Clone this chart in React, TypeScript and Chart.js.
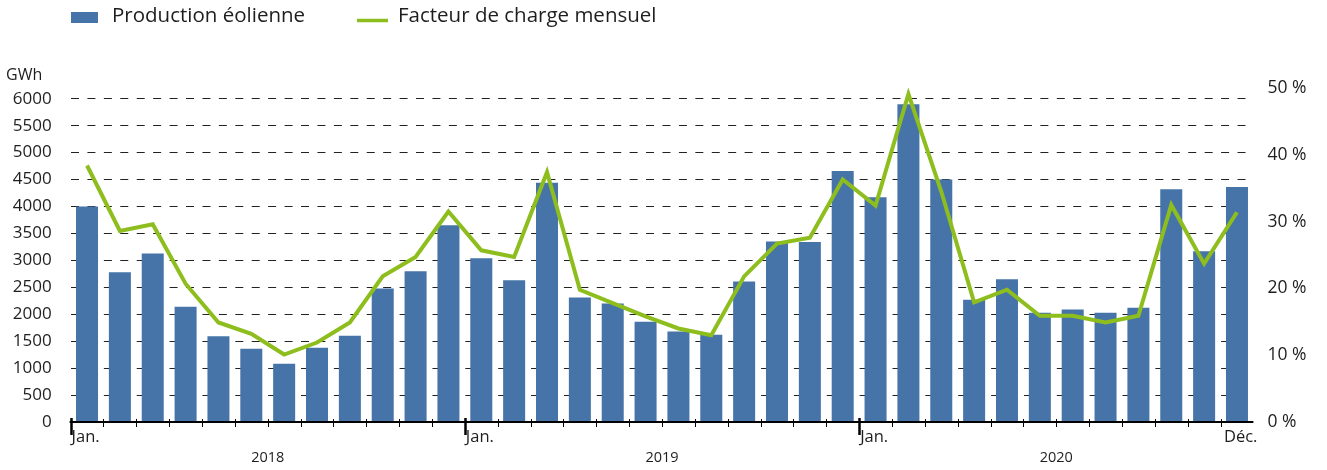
import React, { useEffect, useRef } from 'react';
import { Chart, registerables } from 'chart.js';

Chart.register(...registerables);

const years = ['2018', '2019', '2020'];
const monthNames = ['Jan.', 'Fév.', 'Mars', 'Avr.', 'Mai', 'Juin', 'Juil.', 'Août', 'Sept.', 'Oct.', 'Nov.', 'Déc.'];
const categories = years.flatMap((y) => monthNames.map((m) => `${m} ${y}`));

const production = [
  4000, 2780, 3130, 2140, 1590, 1360, 1080, 1380, 1600, 2480, 2800, 3650,
  3040, 2630, 4440, 2310, 2200, 1860, 1680, 1620, 2610, 3350, 3340, 4660,
  4170, 5900, 4500, 2270, 2650, 2030, 2090, 2030, 2120, 4320, 3170, 4360,
];

const loadFactor = [
  38.4, 28.6, 29.6, 20.7, 14.9, 13.2, 10.1, 11.9, 14.9, 21.8, 24.7, 31.5,
  25.7, 24.7, 37.4, 19.8, 17.8, 15.8, 14.0, 13.0, 21.8, 26.7, 27.6, 36.3,
  32.4, 49.1, 34.5, 17.9, 19.8, 15.9, 15.9, 14.9, 15.9, 32.5, 23.7, 31.4,
];

const leftTicks = [0, 500, 1000, 1500, 2000, 2500, 3000, 3500, 4000, 4500, 5000, 5500, 6000];
const rightTicks = [0, 10, 20, 30, 40, 50];

const legendLabels = ['Production éolienne', 'Facteur de charge mensuel'];
const leftUnit = 'GWh';

const BAR_COLOR = '#4674a8';
const LINE_COLOR = '#8dbe1e';
const TEXT_COLOR = '#1e1e1e';
const FONT = "'Open Sans', sans-serif";

const overlayPlugin = {
  id: 'overlay',
  afterDatasetsDraw(chart: any) {
    const { ctx, chartArea } = chart;
    const { left, right, bottom } = chartArea;
    const xs = chart.scales.x;
    const w = xs.getPixelForValue(1) - xs.getPixelForValue(0);
    const start = xs.getPixelForValue(0) - w / 2;
    const n = categories.length;
    ctx.save();
    ctx.strokeStyle = '#000';
    ctx.lineWidth = 2;
    ctx.beginPath();
    ctx.moveTo(left - 1, bottom);
    ctx.lineTo(right, bottom);
    ctx.stroke();
    for (let i = 0; i < n; i++) {
      const bx = Math.round(start + i * w) + 0.5;
      const major = i % 12 === 0;
      ctx.beginPath();
      if (major) {
        ctx.lineWidth = 2.5;
        ctx.moveTo(bx, bottom - 4);
        ctx.lineTo(bx, bottom + 13);
      } else {
        ctx.lineWidth = 1;
        ctx.moveTo(bx, bottom - 3);
        ctx.lineTo(bx, bottom + 5);
      }
      ctx.stroke();
    }
    ctx.fillStyle = TEXT_COLOR;
    ctx.font = `16.5px ${FONT}`;
    ctx.textBaseline = 'alphabetic';
    years.forEach((y, yi) => {
      const bx = start + yi * 12 * w;
      ctx.textAlign = 'left';
      ctx.fillText(monthNames[0], bx + 1, 442);
    });
    ctx.textAlign = 'right';
    ctx.fillText(monthNames[11], right + 4, 442);
    ctx.font = `14.5px ${FONT}`;
    ctx.textAlign = 'center';
    years.forEach((y, yi) => {
      const cx = start + (yi * 12 + 6) * w;
      ctx.fillText(y, cx, 462);
    });
    ctx.restore();
  },
  afterDraw(chart: any) {
    const { ctx } = chart;
    ctx.save();
    ctx.fillStyle = BAR_COLOR;
    ctx.fillRect(71, 12, 27, 11);
    ctx.strokeStyle = LINE_COLOR;
    ctx.lineWidth = 3.5;
    ctx.beginPath();
    ctx.moveTo(357, 20.5);
    ctx.lineTo(388, 20.5);
    ctx.stroke();
    ctx.fillStyle = TEXT_COLOR;
    ctx.font = `20.5px ${FONT}`;
    ctx.textAlign = 'left';
    ctx.textBaseline = 'alphabetic';
    ctx.fillText(legendLabels[0], 112, 22);
    ctx.fillText(legendLabels[1], 398, 22);
    ctx.font = `16px ${FONT}`;
    ctx.fillText(leftUnit, 6, 80);
    ctx.restore();
  },
};

export default function App() {
  const ref = useRef<HTMLCanvasElement | null>(null);

  useEffect(() => {
    if (!ref.current) return;
    const chart = new Chart(ref.current, {
      type: 'bar',
      data: {
        labels: categories,
        datasets: [
          {
            type: 'line',
            label: legendLabels[1],
            data: loadFactor,
            yAxisID: 'y1',
            borderColor: LINE_COLOR,
            backgroundColor: LINE_COLOR,
            borderWidth: 4,
            pointRadius: 0,
            tension: 0,
            order: 1,
          } as any,
          {
            type: 'bar',
            label: legendLabels[0],
            data: production,
            yAxisID: 'y',
            backgroundColor: BAR_COLOR,
            borderWidth: 0,
            barPercentage: 0.67,
            categoryPercentage: 1,
            order: 2,
          },
        ],
      },
      options: {
        animation: false,
        responsive: true,
        maintainAspectRatio: false,
        layout: { padding: { top: 88, left: 0, right: 0, bottom: 0 } },
        plugins: { legend: { display: false }, tooltip: { enabled: false } },
        scales: {
          x: {
            offset: true,
            grid: { display: false, drawTicks: false },
            border: { display: false },
            ticks: { display: false },
            afterFit: (s: any) => {
              s.height = 48;
            },
          },
          y: {
            position: 'left',
            min: 0,
            max: 6200,
            afterBuildTicks: (s: any) => {
              s.ticks = leftTicks.map((v) => ({ value: v }));
            },
            afterFit: (s: any) => {
              s.width = 70.6;
            },
            ticks: {
              padding: 19,
              color: TEXT_COLOR,
              font: { family: FONT, size: 17 },
              callback: (v: any) => String(v),
            },
            grid: {
              drawTicks: false,
              color: (c: any) => (c.tick && c.tick.value === 0 ? 'rgba(0,0,0,0)' : '#222'),
              lineWidth: 1,
              borderDash: [8, 8.43],
            } as any,
            border: { display: false, dash: [8, 8.43] },
          },
          y1: {
            position: 'right',
            min: 0,
            max: 50,
            afterBuildTicks: (s: any) => {
              s.ticks = rightTicks.map((v) => ({ value: v }));
            },
            afterFit: (s: any) => {
              s.width = 73.6;
            },
            ticks: {
              padding: 14,
              color: TEXT_COLOR,
              font: { family: FONT, size: 17.5 },
              callback: (v: any) => `${v} %`,
            },
            grid: { display: false, drawTicks: false },
            border: { display: false },
          },
        },
      },
      plugins: [overlayPlugin],
    });
    return () => chart.destroy();
  }, []);

  return (
    <div style={{ position: 'absolute', left: 0, top: 0, width: 1327, height: 470 }}>
      <canvas ref={ref} />
    </div>
  );
}
